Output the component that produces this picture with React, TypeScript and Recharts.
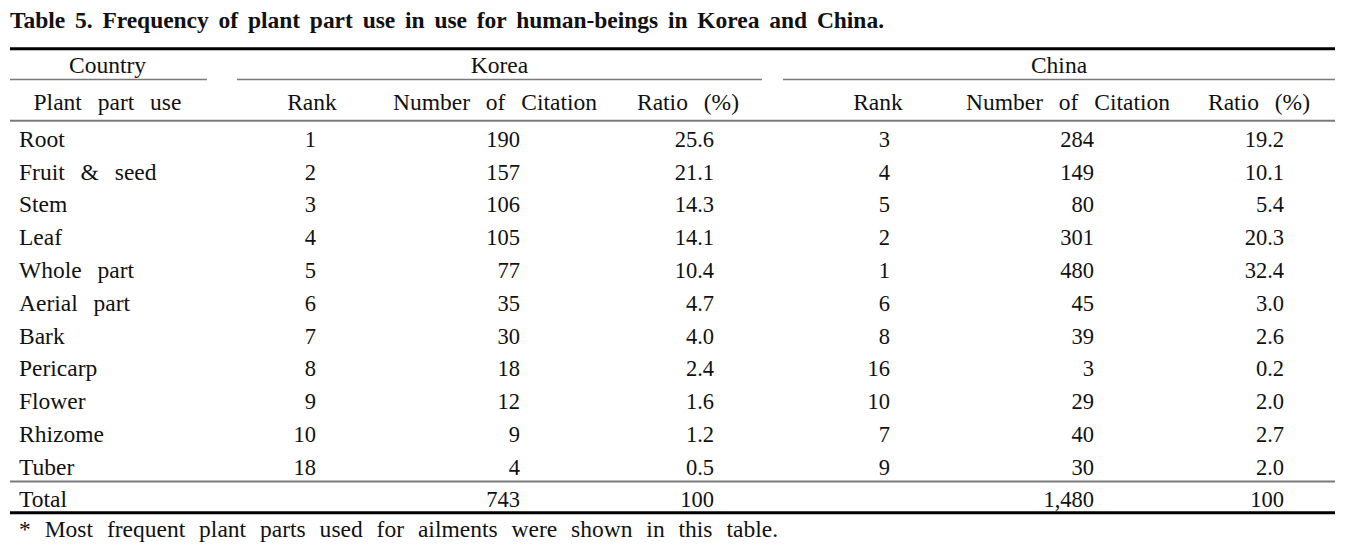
import React from 'react';
import { ScatterChart, Scatter, XAxis, YAxis, ReferenceLine } from 'recharts';

// ---------- data ----------
const title = 'Table 5. Frequency of plant part use in use for human-beings in Korea and China.';
const footnote = '* Most frequent plant parts used for ailments were shown in this table.';
const groupHeaders = ['Country', 'Korea', 'China'];
const columnHeaders = ['Plant part use', 'Rank', 'Number of Citation', 'Ratio (%)', 'Rank', 'Number of Citation', 'Ratio (%)'];

const parts = ['Root', 'Fruit & seed', 'Stem', 'Leaf', 'Whole part', 'Aerial part', 'Bark', 'Pericarp', 'Flower', 'Rhizome', 'Tuber'];
const koreaRank = [1, 2, 3, 4, 5, 6, 7, 8, 9, 10, 18];
const koreaCitation = [190, 157, 106, 105, 77, 35, 30, 18, 12, 9, 4];
const koreaRatio = ['25.6', '21.1', '14.3', '14.1', '10.4', '4.7', '4.0', '2.4', '1.6', '1.2', '0.5'];
const chinaRank = [3, 4, 5, 2, 1, 6, 8, 16, 10, 7, 9];
const chinaCitation = [284, 149, 80, 301, 480, 45, 39, 3, 29, 40, 30];
const chinaRatio = ['19.2', '10.1', '5.4', '20.3', '32.4', '3.0', '2.6', '0.2', '2.0', '2.7', '2.0'];
const totalLabel = 'Total';
const koreaTotal = ['743', '100'];
const chinaTotal = ['1,480', '100'];

// ---------- layout ----------
const W = 1354;
const H = 552;
const ROW0 = 146.7; // baseline of first body row (px)
const PITCH = 32.8; // row pitch (px)
const Y_DOMAIN: [number, number] = [-ROW0 / PITCH, (H - ROW0) / PITCH];

const TITLE_ROW = -3.61;
const GROUP_ROW = -2.24;
const HEADER_ROW = -1.12;
const TOTAL_ROW = 10.98;
const NOTE_ROW = 11.91;

const TOP_RULE = -2.99;
const GROUP_RULE = -2.05;
const HEAD_RULE = -0.79;
const TOTAL_RULE = 10.21;
const BOTTOM_RULE = 11.16;

const LEFT = 10;
const RIGHT = 1335;
const GROUP_SPANS: [number, number][] = [[10, 207], [237, 762], [783, 1335]];
const GROUP_CENTERS = [107.5, 499.5, 1059];
const HEADER_CENTERS = [107.5, 312, 495, 688, 878, 1068, 1259];
const LABEL_X = 19;
const VALUE_RIGHT = [316, 520, 714, 890, 1094, 1284];

const FONT = '"Liberation Serif", "Times New Roman", serif';
const INK = '#111';
const GRAY = '#7a7a7a';

const textStyle = { fontFamily: FONT, fontSize: 23.5, fill: INK, wordSpacing: 10 };
const numStyle = { fontFamily: FONT, fontSize: 22.5, fill: INK };

type Cell = { x: number; y: number; text: string };

const makeShape = (anchor: 'start' | 'middle' | 'end', style: any, textLength?: number) => (props: any) => (
  <text
    x={props.cx}
    y={props.cy}
    textAnchor={anchor}
    style={style}
    {...(textLength ? { textLength, lengthAdjust: 'spacing' } : {})}
  >
    {props.payload.text}
  </text>
);

const titleData: Cell[] = [{ x: LEFT, y: TITLE_ROW, text: title }];
const noteData: Cell[] = [{ x: LABEL_X, y: NOTE_ROW, text: footnote }];
const groupData: Cell[] = groupHeaders.map((t, i) => ({ x: GROUP_CENTERS[i], y: GROUP_ROW, text: t }));
const headerData: Cell[] = columnHeaders.map((t, i) => ({ x: HEADER_CENTERS[i], y: HEADER_ROW, text: t }));
const labelData: Cell[] = [
  ...parts.map((t, i) => ({ x: LABEL_X, y: i, text: t })),
  { x: LABEL_X, y: TOTAL_ROW, text: totalLabel },
];

const valueColumns: (string | number)[][] = [koreaRank, koreaCitation, koreaRatio, chinaRank, chinaCitation, chinaRatio];
const valueData: Cell[] = valueColumns.flatMap((col, c) =>
  col.map((v, i) => ({ x: VALUE_RIGHT[c], y: i, text: String(v) }))
);
const totalData: Cell[] = [
  { x: VALUE_RIGHT[1], y: TOTAL_ROW, text: koreaTotal[0] },
  { x: VALUE_RIGHT[2], y: TOTAL_ROW, text: koreaTotal[1] },
  { x: VALUE_RIGHT[4], y: TOTAL_ROW, text: chinaTotal[0] },
  { x: VALUE_RIGHT[5], y: TOTAL_ROW, text: chinaTotal[1] },
];

export default function App() {
  return (
    <div style={{ position: 'absolute', left: 0, top: 0, width: W, height: H, background: '#fff' }}>
      <ScatterChart width={W} height={H} margin={{ top: 0, right: 0, bottom: 0, left: 0 }}>
        <XAxis type="number" dataKey="x" domain={[0, W]} hide />
        <YAxis type="number" dataKey="y" domain={Y_DOMAIN} reversed hide allowDataOverflow />

        <ReferenceLine segment={[{ x: LEFT, y: TOP_RULE }, { x: RIGHT, y: TOP_RULE }]} stroke="#000" strokeWidth={3} />
        {GROUP_SPANS.map(([a, b], i) => (
          <ReferenceLine key={i} segment={[{ x: a, y: GROUP_RULE }, { x: b, y: GROUP_RULE }]} stroke={GRAY} strokeWidth={1.5} />
        ))}
        <ReferenceLine segment={[{ x: LEFT, y: HEAD_RULE }, { x: RIGHT, y: HEAD_RULE }]} stroke={GRAY} strokeWidth={2} />
        <ReferenceLine segment={[{ x: LEFT, y: TOTAL_RULE }, { x: RIGHT, y: TOTAL_RULE }]} stroke={GRAY} strokeWidth={2} />
        <ReferenceLine segment={[{ x: LEFT, y: BOTTOM_RULE }, { x: RIGHT, y: BOTTOM_RULE }]} stroke="#000" strokeWidth={3} />

        <Scatter data={titleData} isAnimationActive={false}
          shape={makeShape('start', { fontFamily: FONT, fontSize: 23.5, fontWeight: 'bold', fill: INK, wordSpacing: 4 }, 874)} />
        <Scatter data={groupData} isAnimationActive={false} shape={makeShape('middle', textStyle)} />
        <Scatter data={headerData} isAnimationActive={false} shape={makeShape('middle', textStyle)} />
        <Scatter data={labelData} isAnimationActive={false} shape={makeShape('start', textStyle)} />
        <Scatter data={valueData} isAnimationActive={false} shape={makeShape('end', numStyle)} />
        <Scatter data={totalData} isAnimationActive={false} shape={makeShape('end', numStyle)} />
        <Scatter data={noteData} isAnimationActive={false}
          shape={makeShape('start', { fontFamily: FONT, fontSize: 23.5, fill: INK, wordSpacing: 8 }, 759)} />
      </ScatterChart>
    </div>
  );
}
